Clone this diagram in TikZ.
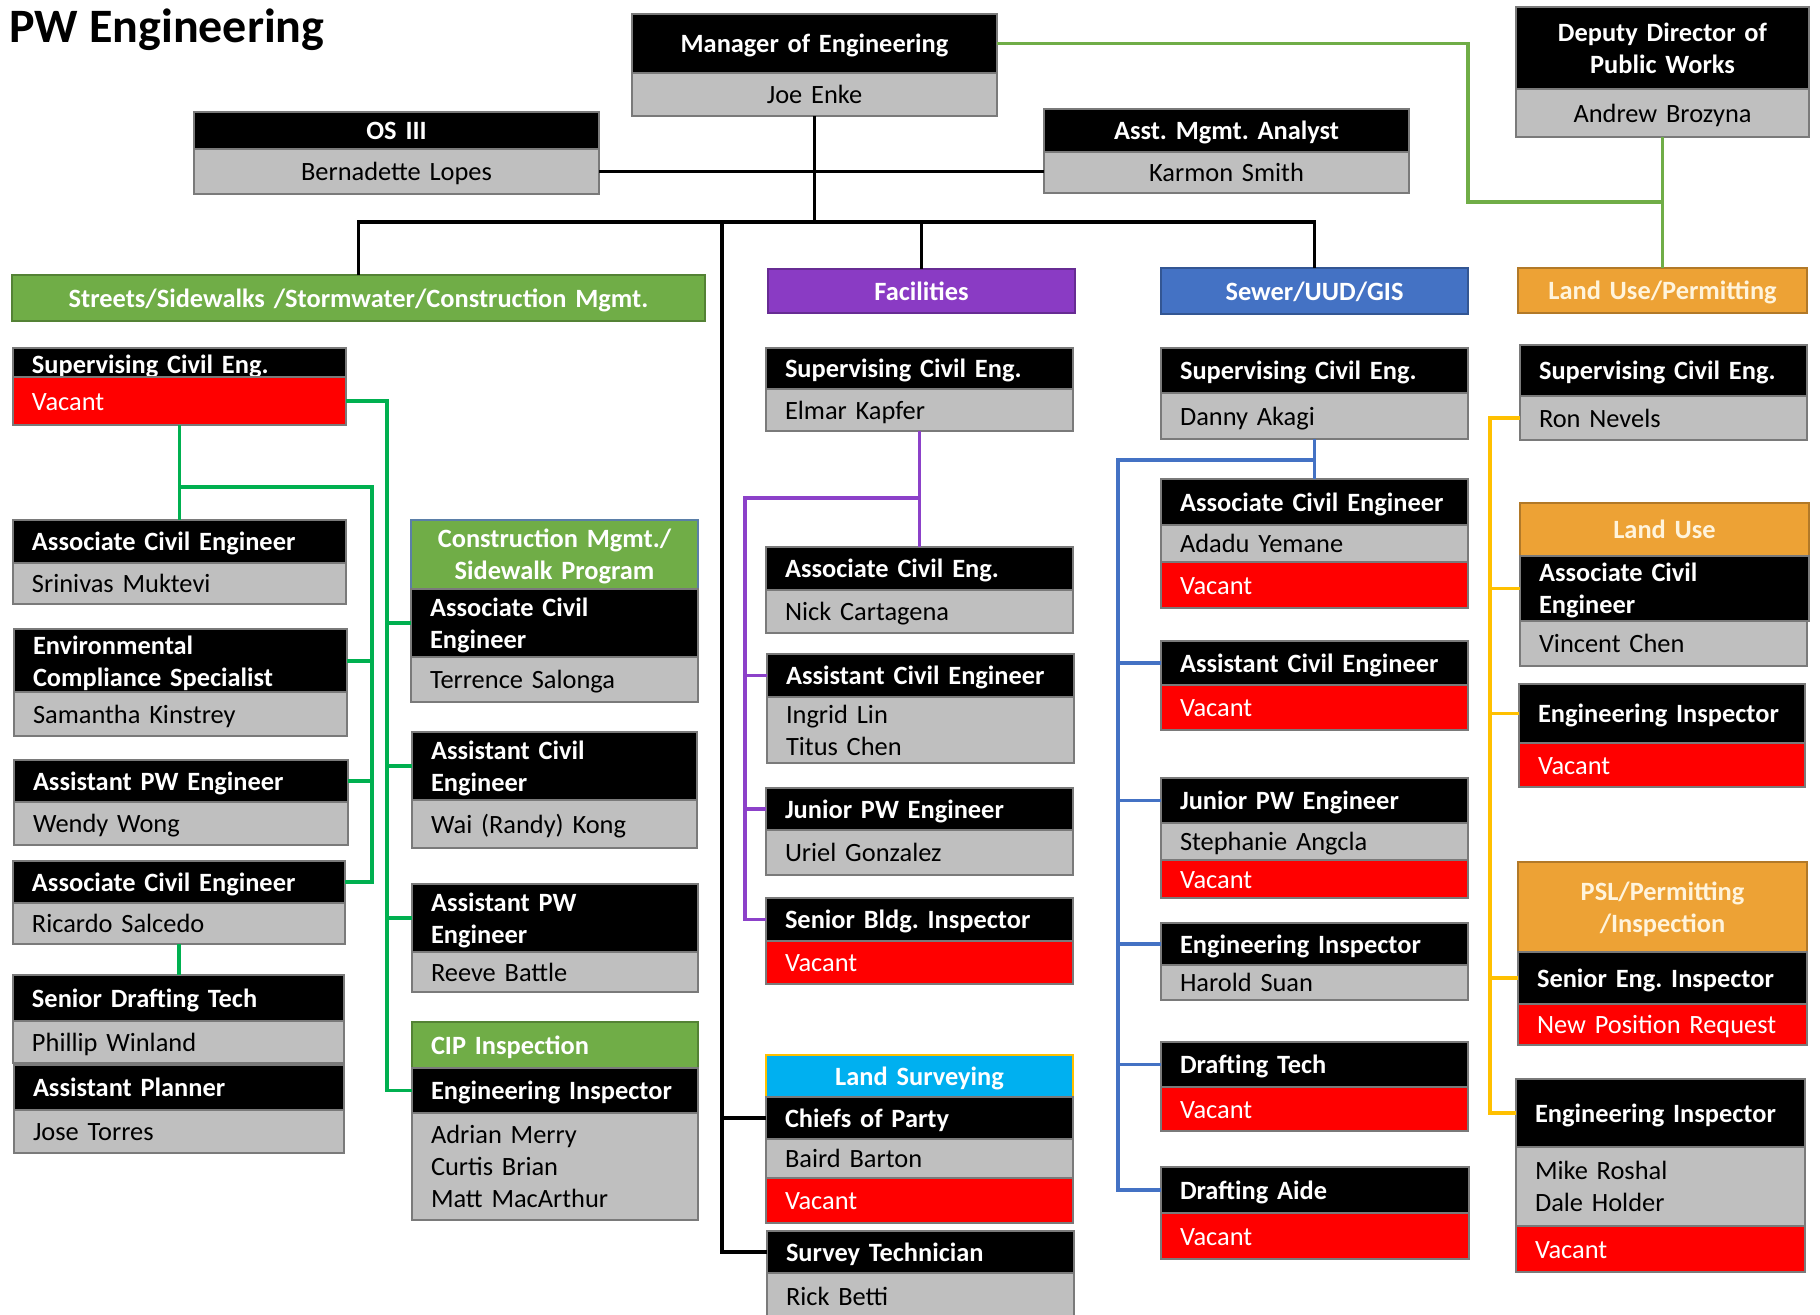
\documentclass[tikz,border=0pt]{standalone}
\usepackage{fontspec}
\setmainfont{Carlito}
\frenchspacing
\definecolor{grayf}{HTML}{BFBFBF}
\definecolor{bordc}{HTML}{7A7A7A}
\definecolor{vacred}{HTML}{FF0000}
\definecolor{hgreen}{HTML}{70AD47}
\definecolor{hpurple}{HTML}{8A3BC4}
\definecolor{hblue}{HTML}{4472C4}
\definecolor{horange}{HTML}{EDA235}
\definecolor{hcyan}{HTML}{00B0F0}
\definecolor{ocream}{HTML}{FFF4DC}
\definecolor{cgreen}{HTML}{00B050}
\definecolor{corange}{HTML}{FFC000}
\definecolor{cpurple}{HTML}{8C41C9}
\definecolor{cblue}{HTML}{4472C4}
\definecolor{cmborder}{HTML}{5B7FA8}
\newcommand\bxfont{\fontsize{13.2}{16}\selectfont}
\newcommand\bxstrut{\rule[-3.5pt]{0pt}{16pt}}
\newcommand\bx[7]{%
  \pgfmathsetmacro\bxw{(#4-#2)*0.5}%
  \pgfmathsetmacro\bxh{(#5-#3)*0.5}%
  \pgfmathsetmacro\bxt{\bxw-19}%
  \node[#6, anchor=north west, minimum width=\bxw pt, minimum height=\bxh pt, text width=\bxt pt] (#1) at (#2,#3) {\bxstrut#7\bxstrut};}
\tikzset{
  base/.style={inner xsep=9.5pt, inner ysep=0pt, outer sep=0pt, draw=bordc, line width=0.6pt, font=\bxfont},
  blk/.style={base, fill=black, text=white, font=\bxfont\bfseries, align=left},
  blkc/.style={blk, align=center},
  gry/.style={base, fill=grayf, text=black, align=left},
  gryc/.style={gry, align=center},
  vac/.style={base, fill=vacred, text=white, align=left},
  hdrc/.style={base, fill=#1, draw=#1!75!black, text=white, font=\bxfont\bfseries, align=center},
  hdrl/.style={hdrc=#1, align=left},
  lblk/.style={draw=black, line width=1.8pt},
  lgrnA/.style={draw=hgreen, line width=1.6pt},
  lgrnB/.style={draw=cgreen, line width=1.6pt},
  lpur/.style={draw=cpurple, line width=1.6pt},
  lblu/.style={draw=cblue, line width=1.6pt},
  lorg/.style={draw=corange, line width=1.6pt},
}
\begin{document}
\begin{tikzpicture}[x=0.5pt, y=-0.5pt]
\fill[white] (0,0) rectangle (1820,1314);
\useasboundingbox (0,0) rectangle (1820,1314);

\node[font=\fontsize{24}{29}\selectfont\bfseries, anchor=base west, inner sep=0pt] (title) at (9,42) {PW Engineering};

% top
\bx{mgr}{632}{14}{997}{73}{blkc}{Manager of Engineering}
\bx{mgrg}{632}{73}{997}{116}{gryc}{Joe Enke}
\bx{os}{194}{112}{599}{149}{blkc}{OS III}
\bx{osg}{194}{149}{599}{194}{gryc}{Bernadette Lopes}
\bx{ama}{1044}{109}{1409}{152}{blkc}{Asst. Mgmt. Analyst}
\bx{amag}{1044}{152}{1409}{193}{gryc}{Karmon Smith}
\bx{dep}{1516}{7}{1809}{89}{blkc}{Deputy Director of\\Public Works}
\bx{depg}{1516}{89}{1809}{137}{gryc}{Andrew Brozyna}

% headers
\bx{streets}{12}{275}{705}{321}{hdrc=hgreen}{Streets/Sidewalks /Stormwater/Construction Mgmt.}
\bx{facil}{768}{269}{1075}{313}{hdrc=hpurple}{Facilities}
\bx{sewer}{1161}{268}{1468}{314}{hdrc=hblue}{Sewer/UUD/GIS}
\bx{lup}{1518}{268}{1807}{313}{hdrc=horange, text=ocream}{Land Use/Permitting}

% left column
\bx{lsup}{13}{348}{346}{377}{blk}{Supervising Civil Eng.}
\bx{lsupv}{13}{377}{346}{425}{vac}{Vacant}
\bx{lace}{13}{520}{346}{563}{blk}{Associate Civil Engineer}
\bx{laceg}{13}{563}{346}{604}{gry}{Srinivas Muktevi}
\bx{lenv}{14}{629}{347}{692}{blk}{Environmental\\Compliance Specialist}
\bx{lenvg}{14}{692}{347}{736}{gry}{Samantha Kinstrey}
\bx{lapw}{14}{760}{348}{802}{blk}{Assistant PW Engineer}
\bx{lapwg}{14}{802}{348}{845}{gry}{Wendy Wong}
\bx{lac2}{13}{861}{345}{903}{blk}{Associate Civil Engineer}
\bx{lac2g}{13}{903}{345}{944}{gry}{Ricardo Salcedo}
\bx{lsdt}{13}{975}{344}{1021}{blk}{Senior Drafting Tech}
\bx{lsdtg}{13}{1021}{344}{1063}{gry}{Phillip Winland}
\bx{lapl}{14}{1065}{344}{1110}{blk}{Assistant Planner}
\bx{laplg}{14}{1110}{344}{1153}{gry}{Jose Torres}

% second column
\bx{cmh}{411}{520}{698}{589}{hdrc=hgreen, draw=cmborder}{Construction Mgmt./\\Sidewalk Program}
\bx{cmb}{411}{589}{698}{657}{blk}{Associate Civil\\Engineer}
\bx{cmg}{411}{657}{698}{702}{gry}{Terrence Salonga}
\bx{mac}{412}{732}{697}{800}{blk}{Assistant Civil\\Engineer}
\bx{macg}{412}{800}{697}{848}{gry}{Wai (Randy) Kong}
\bx{mapw}{412}{884}{698}{952}{blk}{Assistant PW\\Engineer}
\bx{mapwg}{412}{952}{698}{992}{gry}{Reeve Battle}
\bx{cip}{412}{1022}{698}{1068}{hdrl=hgreen}{CIP Inspection}
\bx{cipb}{412}{1068}{698}{1113}{blk}{Engineering Inspector}
\bx{cipg}{412}{1113}{698}{1220}{gry}{Adrian Merry\\Curtis Brian\\Matt MacArthur}

% facilities column
\bx{fsup}{766}{348}{1073}{389}{blk}{Supervising Civil Eng.}
\bx{fsupg}{766}{389}{1073}{431}{gry}{Elmar Kapfer}
\bx{face}{766}{547}{1073}{590}{blk}{Associate Civil Eng.}
\bx{faceg}{766}{590}{1073}{633}{gry}{Nick Cartagena}
\bx{fac2}{767}{654}{1074}{697}{blk}{Assistant Civil Engineer}
\bx{fac2g}{767}{697}{1074}{763}{gry}{Ingrid Lin\\Titus Chen}
\bx{fjpw}{766}{788}{1073}{830}{blk}{Junior PW Engineer}
\bx{fjpwg}{766}{830}{1073}{875}{gry}{Uriel Gonzalez}
\bx{fsbi}{766}{898}{1073}{941}{blk}{Senior Bldg. Inspector}
\bx{fsbiv}{766}{941}{1073}{984}{vac}{Vacant}
\bx{lsv}{766}{1055}{1073}{1097}{hdrc=hcyan, draw=corange}{Land Surveying}
\bx{lsvb}{766}{1097}{1073}{1139}{blk}{Chiefs of Party}
\bx{lsvg}{766}{1139}{1073}{1178}{gry}{Baird Barton}
\bx{lsvv}{766}{1178}{1073}{1223}{vac}{Vacant}
\bx{stech}{767}{1231}{1074}{1273}{blk}{Survey Technician}
\bx{stechg}{767}{1273}{1074}{1320}{gry}{Rick Betti}

% sewer column
\bx{ssup}{1161}{348}{1468}{393}{blk}{Supervising Civil Eng.}
\bx{ssupg}{1161}{393}{1468}{439}{gry}{Danny Akagi}
\bx{sace}{1161}{479}{1468}{525}{blk}{Associate Civil Engineer}
\bx{saceg}{1161}{525}{1468}{562}{gry}{Adadu Yemane}
\bx{sacev}{1161}{562}{1468}{608}{vac}{Vacant}
\bx{sasc}{1161}{641}{1468}{685}{blk}{Assistant Civil Engineer}
\bx{sascv}{1161}{685}{1468}{730}{vac}{Vacant}
\bx{sjpw}{1161}{778}{1468}{823}{blk}{Junior PW Engineer}
\bx{sjpwg}{1161}{823}{1468}{860}{gry}{Stephanie Angcla}
\bx{sjpwv}{1161}{860}{1468}{898}{vac}{Vacant}
\bx{sei}{1161}{923}{1468}{965}{blk}{Engineering Inspector}
\bx{seig}{1161}{965}{1468}{1000}{gry}{Harold Suan}
\bx{sdt}{1161}{1042}{1468}{1087}{blk}{Drafting Tech}
\bx{sdtv}{1161}{1087}{1468}{1131}{vac}{Vacant}
\bx{sda}{1161}{1167}{1469}{1213}{blk}{Drafting Aide}
\bx{sdav}{1161}{1213}{1469}{1259}{vac}{Vacant}

% land use column
\bx{usup}{1520}{345}{1807}{396}{blk}{Supervising Civil Eng.}
\bx{usupg}{1520}{396}{1807}{440}{gry}{Ron Nevels}
\bx{luh}{1520}{503}{1809}{556}{hdrc=horange, text=ocream}{Land Use}
\bx{lub}{1520}{556}{1809}{621}{blk}{Associate Civil\\Engineer}
\bx{lug}{1520}{621}{1807}{666}{gry}{Vincent Chen}
\bx{uei}{1519}{684}{1805}{743}{blk}{Engineering Inspector}
\bx{ueiv}{1519}{743}{1805}{787}{vac}{Vacant}
\bx{psl}{1518}{862}{1807}{952}{hdrc=horange, text=ocream}{PSL/Permitting\\/Inspection}
\bx{pslb}{1518}{952}{1807}{1004}{blk}{Senior Eng. Inspector}
\bx{pslv}{1518}{1004}{1807}{1045}{vac}{New Position Request}
\bx{uei2}{1516}{1079}{1805}{1147}{blk}{Engineering Inspector}
\bx{uei2g}{1516}{1147}{1805}{1226}{gry}{Mike Roshal\\Dale Holder}
\bx{uei2v}{1516}{1226}{1805}{1272}{vac}{Vacant}

% black connectors
\coordinate (bus) at (814,222);
\coordinate (trunk) at (722,222);
\draw[lblk] (osg.east) -- (osg.east -| amag.west);
\draw[lblk] (mgrg.south) -- (mgrg.south |- bus);
\draw[lblk] (streets.north) |- (bus) -| (sewer.north);
\draw[lblk] (facil.north) -- (facil.north |- bus);
\draw[lblk] (trunk) |- (stech.west);
\draw[lblk] (lsvb.west) -- (lsvb.west -| trunk);

% top green connector
\coordinate (gturn) at (1468,202);
\draw[lgrnA] (mgr.east) -| (gturn) -- (gturn -| depg.south);
\draw[lgrnA] (depg.south) -- (lup.north);

% left green connectors
\coordinate (gA) at (372,487);
\draw[lgrnB] (lsupv.south) -- (lace.north);
\draw[lgrnB] (lsupv.south |- gA) -- (gA) |- (lac2.east);
\draw[lgrnB] (lenv.east) -- (lenv.east -| gA);
\draw[lgrnB] (lapw.east) -- (lapw.east -| gA);
\draw[lgrnB] (lac2g.south) -- (lac2g.south |- lsdt.north);
\coordinate (gB) at (387,401);
\draw[lgrnB] (lsupv.east) -- (lsupv.east -| gB) |- (cipb.west);
\draw[lgrnB] (cmb.west) -- (cmb.west -| gB);
\draw[lgrnB] (mac.west) -- (mac.west -| gB);
\draw[lgrnB] (mapw.west) -- (mapw.west -| gB);

% purple connectors
\coordinate (pA) at (745,498);
\draw[lpur] (fsupg.south) -- (face.north);
\draw[lpur] (fsupg.south |- pA) -- (pA) |- (fsbi.west);
\draw[lpur] (fac2.west) -- (fac2.west -| pA);
\draw[lpur] (fjpw.west) -- (fjpw.west -| pA);

% blue connectors
\coordinate (bA) at (1118,460);
\draw[lblu] (ssupg.south) -- (sace.north);
\draw[lblu] (ssupg.south |- bA) -- (bA) |- (sda.west);
\draw[lblu] (sasc.west) -- (sasc.west -| bA);
\draw[lblu] (sjpw.west) -- (sjpw.west -| bA);
\draw[lblu] (sei.west) -- (sei.west -| bA);
\draw[lblu] (sdt.west) -- (sdt.west -| bA);

% orange connectors
\coordinate (oA) at (1490,418);
\draw[lorg] (usupg.west) -- (usupg.west -| oA) |- (uei2.west);
\draw[lorg] (lub.west) -- (lub.west -| oA);
\draw[lorg] (uei.west) -- (uei.west -| oA);
\draw[lorg] (pslb.west) -- (pslb.west -| oA);
\end{tikzpicture}
\end{document}
